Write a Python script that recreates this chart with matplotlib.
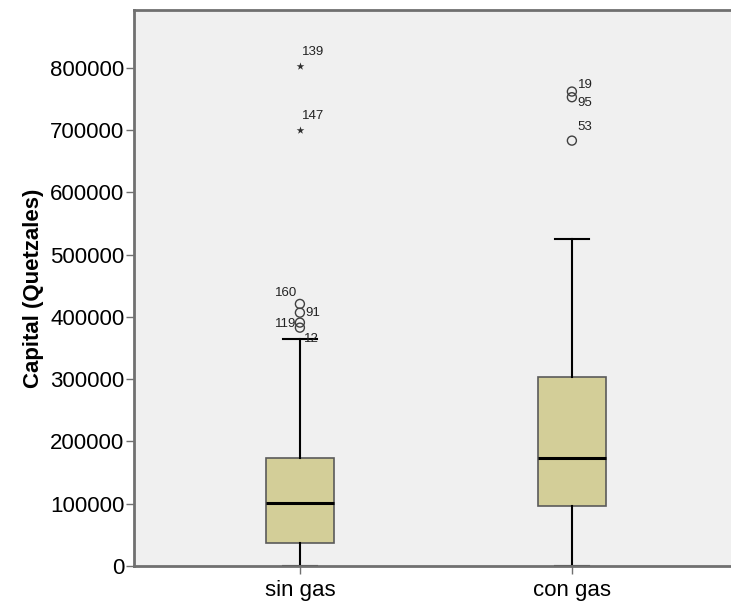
import matplotlib
matplotlib.use("Agg")
import matplotlib.pyplot as plt

# Capital by group (five-number summary per group)
groups = ["sin gas", "con gas"]
whislo = [0, 0]
q1 = [37400, 96400]
med = [101700, 173000]
q3 = [174000, 303600]
whishi = [365000, 525300]

# outliers (circles) and extremes (stars) with case ids
out_grp = [0, 0, 0, 0, 1, 1, 1]
out_val = [420900, 406900, 390900, 382800, 762000, 752900, 683200]
out_id = ["160", "91", "119", "12", "19", "95", "53"]
ext_grp = [0, 0]
ext_val = [803200, 700400]
ext_id = ["139", "147"]

# label offsets (px) for the case ids
out_dx = [-25, 5, -25, 4, 6, 5, 6]
out_dy = [11, 0, -1, -11, 7, -6, 14]

plt.rcParams["font.family"] = ["Liberation Sans", "DejaVu Sans"]

fig = plt.figure(figsize=(7.31, 6.02), dpi=100)
ax = fig.add_axes([0.1833, 0.0598, 0.8167, 0.9236])
ax.set_facecolor("#f0f0f0")

pos = [1, 2]
stats = [dict(label=g, whislo=whislo[i], q1=q1[i], med=med[i], q3=q3[i],
              whishi=whishi[i], fliers=[]) for i, g in enumerate(groups)]
ax.bxp(stats, positions=pos, widths=0.25, capwidths=0.125, patch_artist=True,
       showfliers=False,
       boxprops=dict(facecolor="#d3ce98", edgecolor="#5a5a5a", linewidth=1.2),
       medianprops=dict(color="black", linewidth=2.2),
       whiskerprops=dict(color="black", linewidth=1.5),
       capprops=dict(color="black", linewidth=1.5))

ox = [pos[g] for g in out_grp]
ax.scatter(ox, out_val, s=42, marker="o", facecolors="none",
           edgecolors="#404040", linewidths=1.0, zorder=4)
ex = [pos[g] for g in ext_grp]
ax.scatter(ex, ext_val, s=34, marker="*", color="#303030", linewidths=0, zorder=4)

for x, y, t, dx, dy in zip(ox, out_val, out_id, out_dx, out_dy):
    ax.annotate(t, (x, y), xytext=(dx, dy), textcoords="offset pixels",
                fontsize=9.5, color="#222222", va="center", ha="left")
for x, y, t in zip(ex, ext_val, ext_id):
    ax.annotate(t, (x, y), xytext=(2, 14), textcoords="offset pixels",
                fontsize=9.5, color="#222222", va="center", ha="left")

ax.set_xlim(0.39, 2.585)
ax.set_ylim(0, 893000)
ax.set_yticks(range(0, 800001, 100000))
ax.set_yticklabels([str(v) for v in range(0, 800001, 100000)])
ax.set_xticks(pos)
ax.set_xticklabels(groups)
ax.tick_params(axis="both", labelsize=16, colors="#707070", labelcolor="black",
               length=6, width=1)
ax.tick_params(axis="y", pad=1)
ax.tick_params(axis="x", pad=4)
ax.set_ylabel("Capital (Quetzales)", fontsize=16, fontweight="bold", labelpad=4)

for side in ["left", "bottom", "top"]:
    ax.spines[side].set_color("#707070")
    ax.spines[side].set_linewidth(2)
ax.spines["right"].set_visible(False)

fig.savefig("out.png", dpi=100)
